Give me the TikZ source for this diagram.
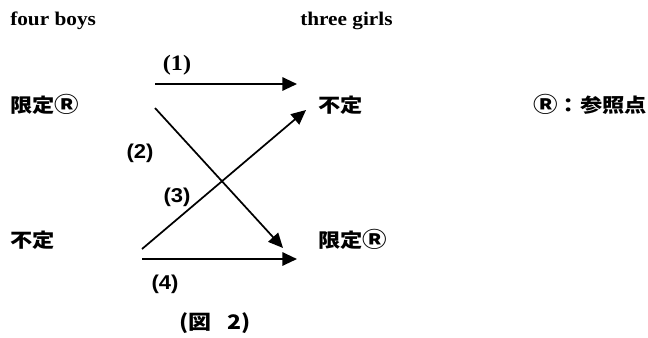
\documentclass[tikz,border=0pt]{standalone}
\usepackage{fontspec}
\setmainfont{Liberation Serif}[FakeStretch=1.1]
\setsansfont{Liberation Sans}[FakeStretch=1.1]
\newfontfamily\jpfont{Noto Sans CJK JP}[FakeStretch=1.15]
\newcommand{\refmark}{{\jpfont\bfseries\fontsize{16}{16}\selectfont Ⓡ}}
\usetikzlibrary{arrows.meta}

\begin{document}
\begin{tikzpicture}[x=0.75pt, y=-0.75pt,
    en/.style={font=\bfseries\fontsize{14.5}{16}\selectfont, inner sep=0pt},
    jp/.style={font=\jpfont\bfseries\fontsize{14.5}{16}\selectfont, inner sep=0pt},
    num/.style={font=\sffamily\bfseries\fontsize{15}{17}\selectfont, inner sep=0pt},
    link/.style={-{Triangle[length=11pt, width=10pt]}, line width=1.5pt}]
    \useasboundingbox (0, 0) rectangle (648, 337);

    % Column heads
    \node[en, anchor=west] (boys) at (10, 21) {four boys};
    \node[en, anchor=west] (girls) at (300, 21) {three girls};

    % Left and right entries
    \node[jp, anchor=base west] (defL) at (10, 112) {限定\refmark};
    \node[jp, anchor=base west] (indefL) at (10, 247) {不定};
    \node[jp, anchor=base west] (indefR) at (318, 112) {不定};
    \node[jp, anchor=base west] (defR) at (318, 247) {限定\refmark};
    \node[jp, anchor=base east] (note) at (647, 112) {\refmark：参照点};

    % Arrow ends
    \coordinate (s1) at (155, 84);  \coordinate (e1) at (297, 84);
    \coordinate (s2) at (155, 108); \coordinate (e2) at (283, 248);
    \coordinate (s3) at (142, 249); \coordinate (e3) at (306, 110);
    \coordinate (s4) at (142, 259); \coordinate (e4) at (297, 259);

    \draw[link] (s1) -- (e1);
    \draw[link, line width=1.3pt] (s2) -- (e2);
    \draw[link, line width=1.3pt] (s3) -- (e3);
    \draw[link] (s4) -- (e4);

    % Arrow labels
    \node[en, font=\bfseries\fontsize{16.5}{18}\selectfont] (n1) at (177, 65) {(1)};
    \node[num] (n2) at (140, 153) {(2)};
    \node[num] (n3) at (177, 197) {(3)};
    \node[num] (n4) at (165, 284) {(4)};

    % Caption
    \node[jp, font=\jpfont\bfseries\fontsize{15}{17}\selectfont, anchor=west] (fig) at (179, 323) {(図\hspace{0.8em}2)};
\end{tikzpicture}
\end{document}
